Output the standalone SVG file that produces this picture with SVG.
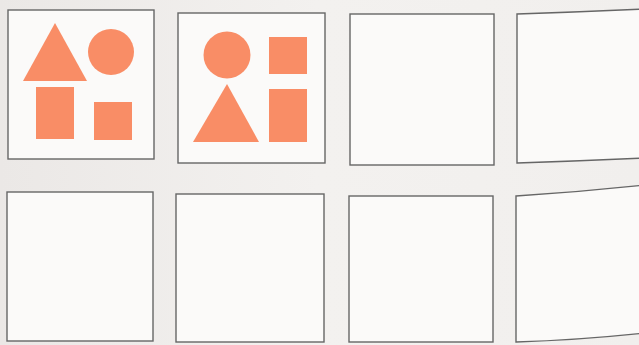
<svg xmlns="http://www.w3.org/2000/svg" width="639" height="345" viewBox="0 0 639 345">
<defs>
<style>
.box{fill:#fbfaf9;stroke:#666;stroke-width:1.4}
.sh{fill:#f98d66}
</style>
<linearGradient id="bg" x1="0" y1="0" x2="1" y2="0">
<stop offset="0" stop-color="#ebe8e6"/>
<stop offset="0.5" stop-color="#f3f1ef"/>
<stop offset="1" stop-color="#f1efed"/>
</linearGradient>
</defs>
<rect width="639" height="345" fill="url(#bg)"/>
<g id="card1">
<rect class="box" x="8" y="10" width="146" height="149"/>
<polygon class="sh" points="55,23 87,81 23,81"/>
<circle class="sh" cx="111" cy="52" r="23"/>
<rect class="sh" x="36" y="87" width="38" height="52"/>
<rect class="sh" x="94" y="102" width="38" height="38"/>
</g>
<g id="card2">
<rect class="box" x="178" y="13" width="147" height="150"/>
<circle class="sh" cx="227" cy="55" r="23.5"/>
<rect class="sh" x="269" y="37" width="38" height="37"/>
<polygon class="sh" points="227,84 259,142 193,142"/>
<rect class="sh" x="269" y="89" width="38" height="53"/>
</g>
<g id="card3">
<rect class="box" x="350" y="14" width="144" height="151"/>
</g>
<g id="card4">
<path class="box" d="M517,14 Q580,12 645,9 L645,158 Q580,161 517,163 Z"/>
</g>
<g id="card5">
<rect class="box" x="7" y="192" width="146" height="149"/>
</g>
<g id="card6">
<rect class="box" x="176" y="194" width="148" height="148"/>
</g>
<g id="card7">
<rect class="box" x="349" y="196" width="144" height="146"/>
</g>
<g id="card8">
<path class="box" d="M516,196 Q580,192 645,185 L645,333 Q580,340 516,342 Z"/>
</g>
<g id="connectors"/>
</svg>
